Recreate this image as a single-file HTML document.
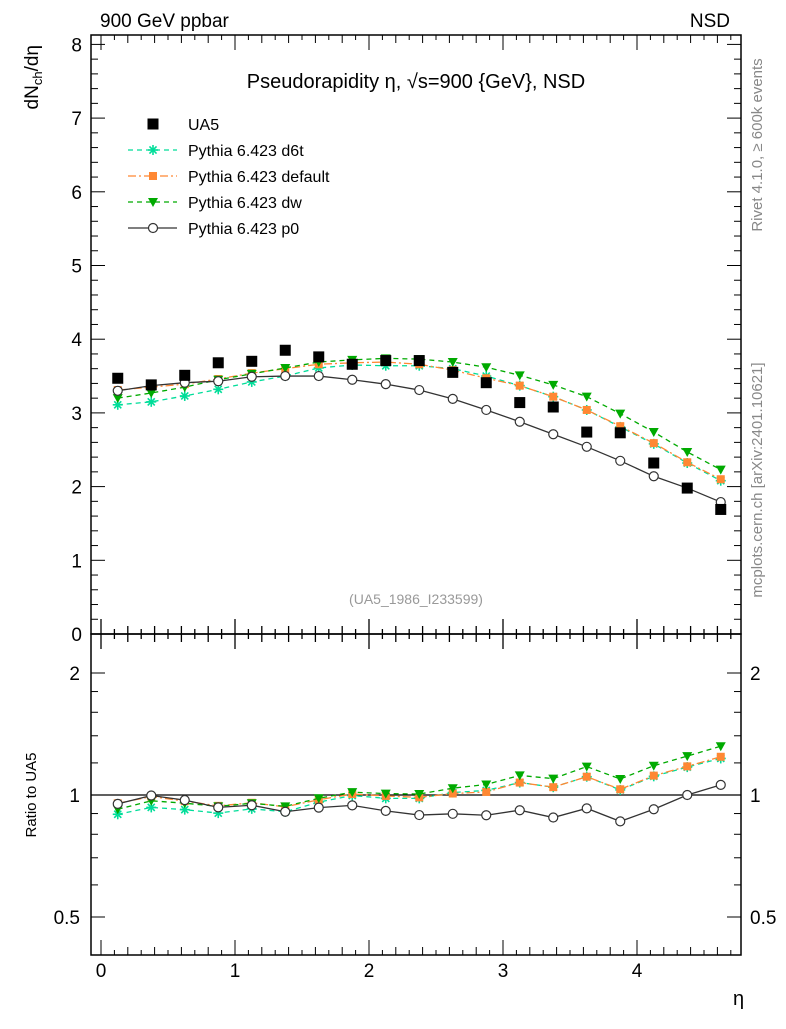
<!DOCTYPE html>
<html><head><meta charset="utf-8"><style>
body{margin:0;background:#fff;}
svg text{font-family:"Liberation Sans",sans-serif;}
</style></head><body>
<svg id="c" width="786" height="1024" xmlns="http://www.w3.org/2000/svg">
<text x="100" y="27" font-size="19">900 GeV ppbar</text>
<text x="730" y="27" font-size="19" text-anchor="end">NSD</text>
<text x="416" y="88" font-size="20" text-anchor="middle">Pseudorapidity η, √s=900 {GeV}, NSD</text>
<text transform="translate(38,45) rotate(-90)" font-size="19" text-anchor="end">dN<tspan font-size="13" dy="4">ch</tspan><tspan dy="-4">/dη</tspan></text>
<text transform="translate(36,795) rotate(-90)" font-size="15" text-anchor="middle">Ratio to UA5</text>
<text x="733" y="1005" font-size="20">η</text>
<text transform="translate(762,145) rotate(-90)" font-size="15" fill="#888" text-anchor="middle">Rivet 4.1.0, ≥ 600k events</text>
<text transform="translate(762,480) rotate(-90)" font-size="15" fill="#888" text-anchor="middle">mcplots.cern.ch [arXiv:2401.10621]</text>
<text x="416" y="604" font-size="14" fill="#999" text-anchor="middle">(UA5_1986_I233599)</text>
<g id="g"></g>
</svg>
<script>
const etas=[0.125,0.375,0.625,0.875,1.125,1.375,1.625,1.875,2.125,2.375,2.625,2.875,3.125,3.375,3.625,3.875,4.125,4.375,4.625];
const ua5=[3.47,3.38,3.51,3.68,3.70,3.85,3.76,3.66,3.71,3.71,3.55,3.41,3.14,3.08,2.74,2.73,2.32,1.98,1.69];
const d6t=[3.11,3.15,3.23,3.32,3.42,3.50,3.61,3.65,3.64,3.64,3.60,3.50,3.37,3.22,3.04,2.81,2.58,2.32,2.08];
const dflt=[3.31,3.35,3.39,3.46,3.54,3.60,3.66,3.68,3.69,3.66,3.58,3.47,3.37,3.22,3.04,2.82,2.59,2.33,2.10];
const dw=[3.20,3.27,3.35,3.45,3.53,3.61,3.69,3.72,3.74,3.73,3.69,3.62,3.51,3.38,3.22,2.99,2.74,2.47,2.23];
const p0=[3.30,3.37,3.41,3.43,3.49,3.50,3.50,3.45,3.39,3.31,3.19,3.04,2.88,2.71,2.54,2.35,2.14,1.98,1.79];
const xTicks=[0,1,2,3,4];
const yTicks=[0,1,2,3,4,5,6,7,8];
const rTicks=[0.5,1,2];
const NS="http://www.w3.org/2000/svg";
const g=document.getElementById('g');
const X=v=>101+134*v, Y=v=>634-73.7*v, R=v=>795-122*Math.log2(v);
const L=91,Rt=741,T=35,M=634,B=955;
function mk(t,a,p){const e=document.createElementNS(NS,t);for(const k in a)e.setAttribute(k,a[k]);(p||g).appendChild(e);return e;}
let e;
e=mk('rect',{x:L,y:T,width:Rt-L,height:M-T,fill:'none',stroke:'#000','stroke-width':1.5});


e=mk('rect',{x:L,y:M,width:Rt-L,height:B-M,fill:'none',stroke:'#000','stroke-width':1.5});


// x ticks
for(let k=0;k<=48;k++){const v=k/10;const x=X(v);if(x>Rt)break;const len=(k%10===0)?15:(k%2===0?8:5);
 mk('line',{x1:x,x2:x,y1:M-len,y2:M+len,stroke:'#000','stroke-width':1.3});
 mk('line',{x1:x,x2:x,y1:T,y2:T+len,stroke:'#000'});
 mk('line',{x1:x,x2:x,y1:B,y2:B-len,stroke:'#000'});}
xTicks.forEach(v=>{e=mk('text',{x:X(v),y:977,'font-size':19,'text-anchor':'middle'});e.textContent=v;

});
// y ticks
for(let k=0;k<=40;k++){const v=k/5;const y=Y(v);if(y<T)break;const len=(k%5===0)?14:7;
 mk('line',{x1:L,x2:L+len,y1:y,y2:y,stroke:'#000'});mk('line',{x1:Rt,x2:Rt-len,y1:y,y2:y,stroke:'#000'});}
yTicks.forEach(v=>{e=mk('text',{x:82,y:Y(v)+7,'font-size':19,'text-anchor':'end'});e.textContent=v;

});
// ratio ticks
[0.4,0.5,0.6,0.7,0.8,0.9,1,1.2,1.4,1.6,1.8,2].forEach(v=>{const y=R(v);if(y<M||y>B)return;const maj=rTicks.includes(v);const len=maj?14:7;
 mk('line',{x1:L,x2:L+len,y1:y,y2:y,stroke:'#000'});mk('line',{x1:Rt,x2:Rt-len,y1:y,y2:y,stroke:'#000'});});
rTicks.forEach(v=>{e=mk('text',{x:80,y:R(v)+7,'font-size':19,'text-anchor':'end'});e.textContent=v;


e=mk('text',{x:750,y:R(v)+7,'font-size':19});e.textContent=v;

});
e=mk('line',{x1:L,x2:Rt,y1:R(1),y2:R(1),stroke:'#000','stroke-width':1.2});


function marker(kind,x,y,col){
 if(kind==='sq')return mk('rect',{x:x-5.5,y:y-5.5,width:11,height:11,fill:col});
 if(kind==='osq')return mk('rect',{x:x-4,y:y-4,width:8,height:8,fill:col});
 if(kind==='tri')return mk('path',{d:`M${x-5},${y-4}L${x+5},${y-4}L${x},${y+5}Z`,fill:col});
 if(kind==='circ')return mk('circle',{cx:x,cy:y,r:4.5,fill:'#fff',stroke:col,'stroke-width':1.2});
 if(kind==='star'){const s=mk('g',{stroke:col,'stroke-width':1.6});for(let a=0;a<4;a++){const t=a*Math.PI/4;mk('line',{x1:x-5*Math.cos(t),y1:y-5*Math.sin(t),x2:x+5*Math.cos(t),y2:y+5*Math.sin(t)},s);}return s;}
}
const series=[
 {n:'d6t',d:d6t,c:'#00dd99',m:'star',dash:'5,4'},
 {n:'default',d:dflt,c:'#ff8833',m:'osq',dash:'8,3,2,3'},
 {n:'dw',d:dw,c:'#00aa00',m:'tri',dash:'5,4'},
 {n:'p0',d:p0,c:'#333333',m:'circ',dash:''}];
series.forEach(s=>{
 let pts=etas.map((v,i)=>X(v)+','+Y(s.d[i])).join(' ');
 e=mk('polyline',{points:pts,fill:'none',stroke:s.c,'stroke-width':1.3,'stroke-dasharray':s.dash});
 
 
 let rp=etas.map((v,i)=>X(v)+','+R(s.d[i]/ua5[i])).join(' ');
 e=mk('polyline',{points:rp,fill:'none',stroke:s.c,'stroke-width':1.3,'stroke-dasharray':s.dash});
 
 
 etas.forEach((v,i)=>{e=marker(s.m,X(v),Y(s.d[i]),s.c);
  
  
  e=marker(s.m,X(v),R(s.d[i]/ua5[i]),s.c);
  
  });
});
etas.forEach((v,i)=>{e=marker('sq',X(v),Y(ua5[i]),'#000');
 
 });
// legend
const leg=[['UA5',null],['Pythia 6.423 d6t',series[0]],['Pythia 6.423 default',series[1]],['Pythia 6.423 dw',series[2]],['Pythia 6.423 p0',series[3]]];
leg.forEach((l,i)=>{const y=124+26*i;
 if(l[1]){e=mk('line',{x1:128,x2:177,y1:y,y2:y,stroke:l[1].c,'stroke-width':1.3,'stroke-dasharray':l[1].dash});
  
  
  marker(l[1].m,153,y,l[1].c);}
 else marker('sq',153,y,'#000');
 e=mk('text',{x:188,y:y+6,'font-size':16});e.textContent=l[0];
 
 });
</script>
</body></html>
